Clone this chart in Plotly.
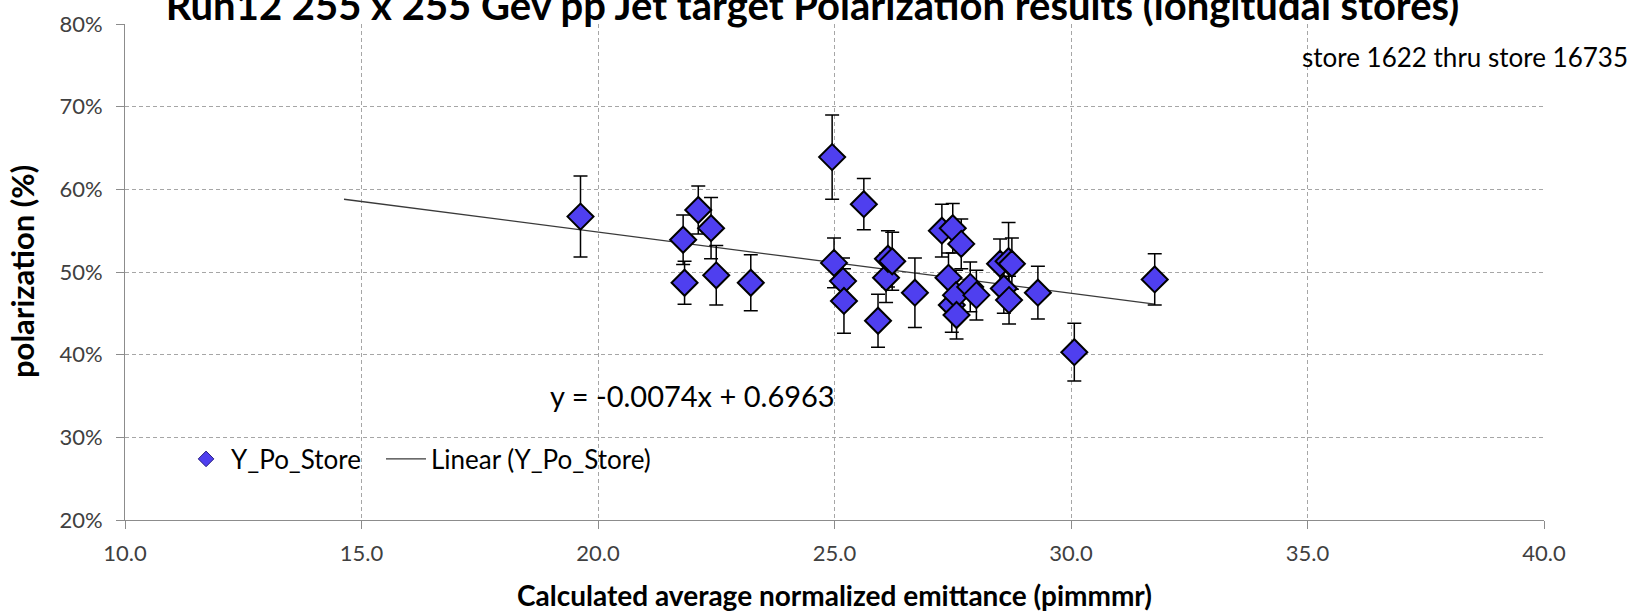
import plotly.graph_objects as go

# --- data ---
EMITTANCE = [19.63, 21.80, 21.83, 22.12, 22.39, 22.50, 23.23, 24.95, 24.99, 25.18,
             25.20, 25.62, 25.92, 26.09, 26.13, 26.22, 26.70, 27.27, 27.41, 27.48,
             27.50, 27.57, 27.58, 27.68, 27.87, 28.00, 28.50, 28.58, 28.68, 28.75,
             28.69, 29.30, 30.07, 31.77]
POLARIZATION = [0.567, 0.539, 0.487, 0.575, 0.553, 0.496, 0.487, 0.639, 0.511, 0.489,
                0.465, 0.582, 0.441, 0.493, 0.516, 0.513, 0.475, 0.550, 0.493, 0.460,
                0.553, 0.472, 0.448, 0.534, 0.482, 0.472, 0.510, 0.480, 0.513, 0.510,
                0.466, 0.475, 0.403, 0.491]
POL_ERR = [0.049, 0.030, 0.026, 0.029, 0.037, 0.036, 0.034, 0.051, 0.030, 0.028,
           0.039, 0.031, 0.032, 0.030, 0.034, 0.035, 0.042, 0.032, 0.030, 0.033,
           0.030, 0.030, 0.029, 0.030, 0.030, 0.030, 0.030, 0.030, 0.047, 0.031,
           0.029, 0.032, 0.035, 0.031]

# trendline endpoints (y = -0.0074x + 0.6963)
TREND_X = [14.63, 31.77]
TREND_Y = [0.5880, 0.4612]

X_TICKS = [10, 15, 20, 25, 30, 35, 40]
Y_TICKS = [0.2, 0.3, 0.4, 0.5, 0.6, 0.7, 0.8]

FONT = "Lato"
FILL = "#4F3FEF"
GRID = "#A6A6A6"

fig = go.Figure()

fig.add_trace(go.Scatter(
    x=TREND_X, y=TREND_Y, mode="lines", showlegend=False,
    line=dict(color="#3a3a3a", width=1.3)))

fig.add_trace(go.Scatter(
    x=EMITTANCE, y=POLARIZATION, mode="markers", showlegend=False,
    marker=dict(symbol="diamond", size=20, color=FILL, line=dict(color="black", width=2)),
    error_y=dict(type="data", array=POL_ERR, visible=True, color="black",
                 thickness=1.5, width=7)))

# legend-only entries (smaller symbols, like the original key), one legend box each
fig.add_trace(go.Scatter(
    x=[None], y=[None], mode="markers", name="Y_Po_Store", legend="legend",
    marker=dict(symbol="diamond", size=12, color=FILL, line=dict(color="#2a2080", width=1))))
fig.add_trace(go.Scatter(
    x=[None], y=[None], mode="lines", name="Linear (Y_Po_Store)", legend="legend2",
    line=dict(color="#3a3a3a", width=1.3)))

fig.add_annotation(
    text="y = -0.0074x + 0.6963", xref="x", yref="y", x=18.94, y=0.351,
    xanchor="left", yanchor="middle", showarrow=False,
    font=dict(family=FONT, size=29, color="black"))

fig.add_annotation(
    text="store 1622 thru store 16735", xref="paper", yref="paper",
    x=0.828, y=0.9335, xanchor="left", yanchor="middle", showarrow=False,
    font=dict(family=FONT, size=26, color="black"))

# y axis title placed by hand
fig.add_annotation(
    text="<b>polarization (%)</b>", xref="paper", yref="paper", x=0, y=0.5,
    xshift=-103, textangle=-90, xanchor="center", yanchor="middle", showarrow=False,
    font=dict(family=FONT, size=31, color="black"))

legend_style = dict(orientation="h", yanchor="middle", xanchor="left", itemwidth=40,
                    bgcolor="rgba(0,0,0,0)", font=dict(family=FONT, size=26, color="black"))

fig.update_layout(
    width=1638, height=612,
    paper_bgcolor="white", plot_bgcolor="white",
    margin=dict(l=125, r=94, t=24, b=92, autoexpand=False),
    font=dict(family=FONT, color="#404040"),
    title=dict(text="<b>Run12 255 x 255 Gev pp Jet target Polarization results (longitudal stores)</b>",
               x=0.496, xanchor="center", xref="container",
               y=0.99, yanchor="middle", yref="container",
               font=dict(family=FONT, size=40, color="black")),
    legend=dict(x=0.0395, y=0.123, **legend_style),
    legend2=dict(x=0.1804, y=0.123, **legend_style),
)

fig.update_xaxes(
    range=[10, 40], tickvals=X_TICKS, tickformat=".1f", automargin=False,
    showgrid=True, gridcolor=GRID, griddash="4px,3px", gridwidth=1,
    showline=True, linecolor="#8c8c8c", linewidth=1, mirror=False, zeroline=False,
    ticks="outside", ticklen=8, tickcolor="#8c8c8c", ticklabelstandoff=6,
    tickfont=dict(family=FONT, size=22, color="#404040"),
    title=dict(text="<b>Calculated average normalized emittance (pimmmr)</b>", standoff=21,
               font=dict(family=FONT, size=28, color="black")))

fig.update_yaxes(
    range=[0.2, 0.8], tickvals=Y_TICKS, tickformat=".0%", automargin=False,
    showgrid=True, gridcolor=GRID, griddash="4px,3px", gridwidth=1,
    showline=True, linecolor="#8c8c8c", linewidth=1, mirror=False, zeroline=False,
    ticks="outside", ticklen=8, tickcolor="#8c8c8c", ticklabelstandoff=9,
    tickfont=dict(family=FONT, size=22, color="#404040"))

# the page body has a default 8px margin; drop it so the chart fills the window
fig.write_html("out.html", config={"displayModeBar": False},
               post_script="document.body.style.margin='0';")
